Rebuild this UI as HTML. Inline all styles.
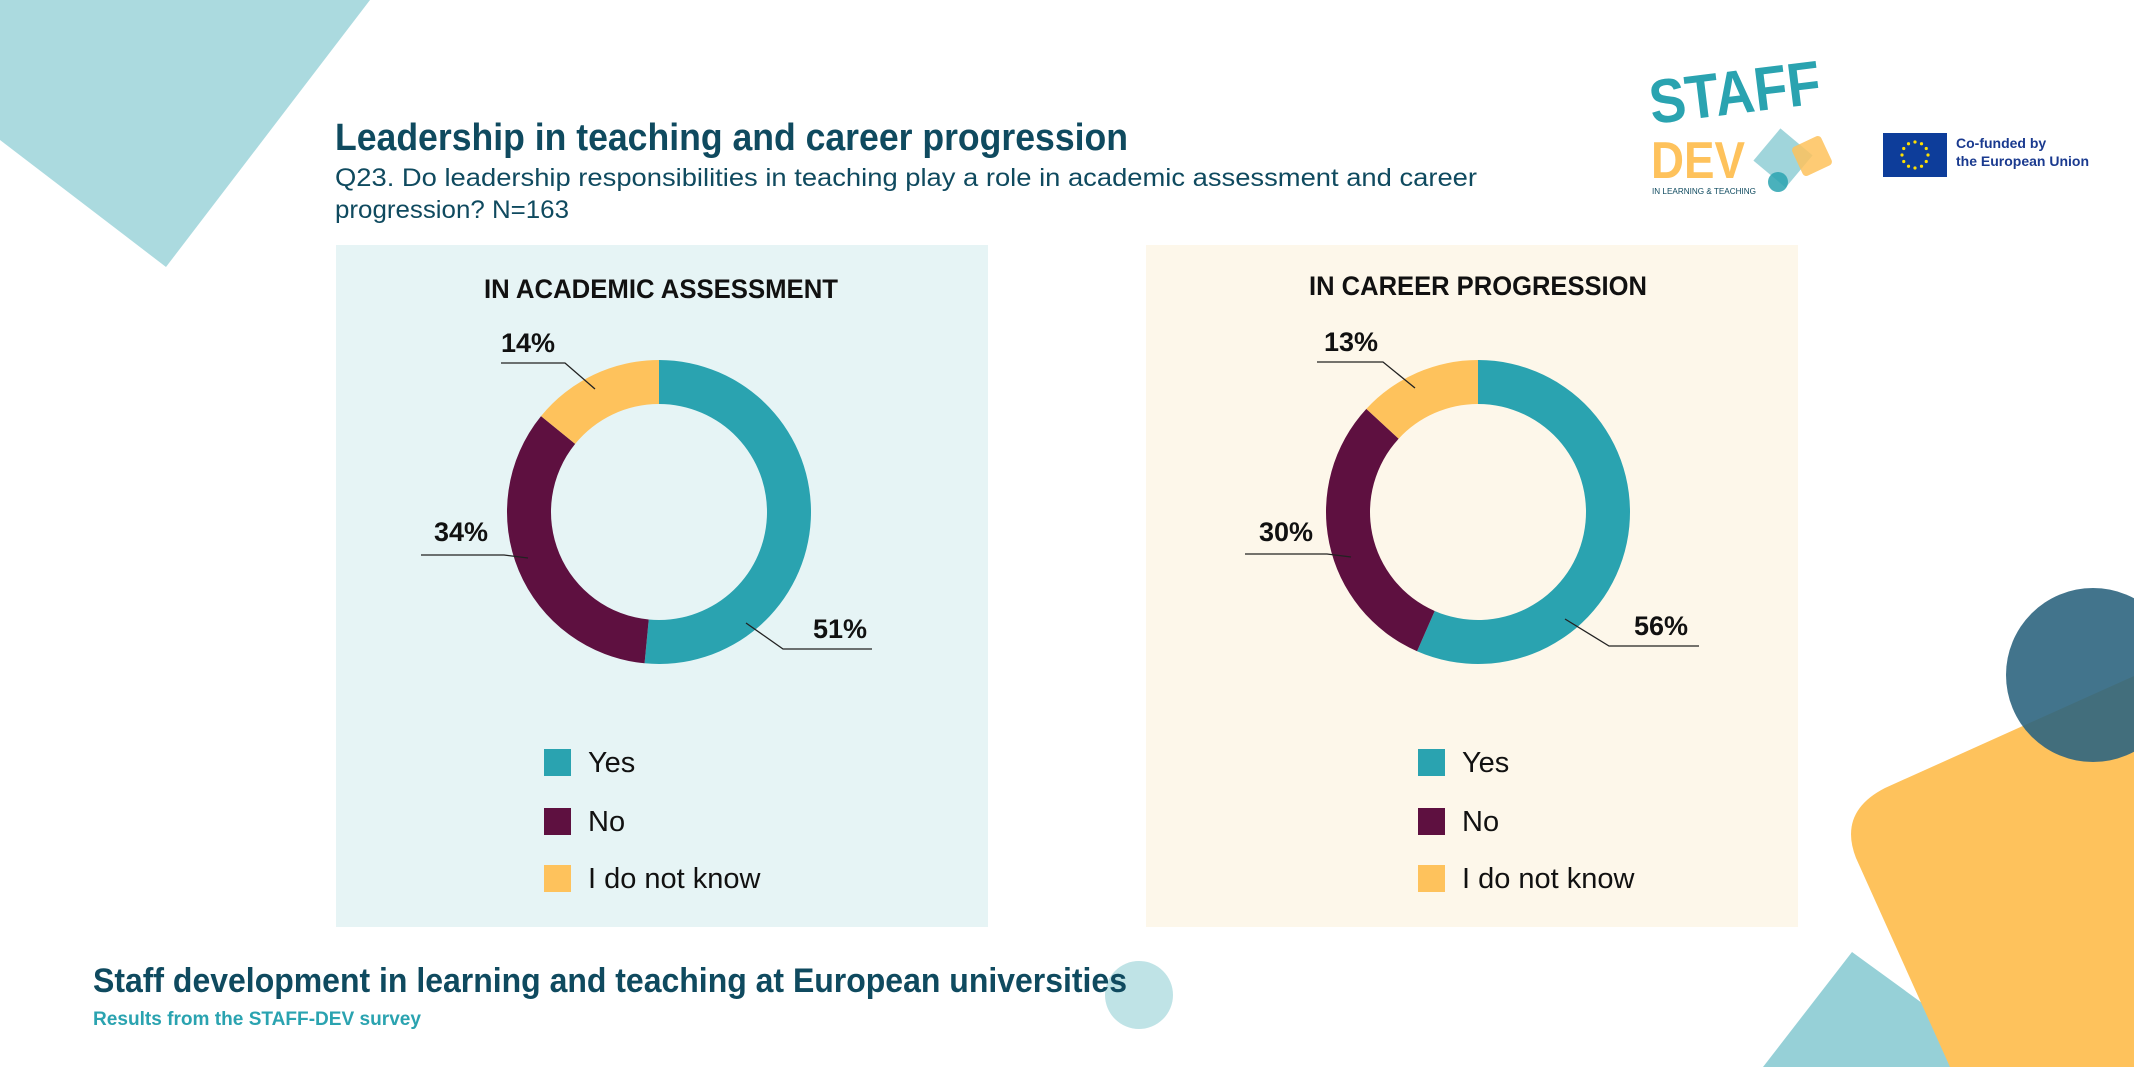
<!DOCTYPE html>
<html><head><meta charset="utf-8"><style>
html,body{margin:0;padding:0;background:#fff;}
svg{display:block;font-family:"Liberation Sans",sans-serif;}
</style></head><body>
<svg id="root" width="2134" height="1067" viewBox="0 0 2134 1067">
  <polygon points="0,0 370,0 166,267 0,140" fill="#abdadf"/>
  <polygon points="1852,952 1763,1067 2010,1067" fill="#96d0d7"/>
  <path d="M1950,1067 L1856,858 Q1838,812 1885,788 L2134,676 L2134,1067 Z" fill="#fec25c"/>
  <circle cx="2093" cy="675" r="87" fill="#2e6580" opacity="0.9"/>
  <circle cx="1139" cy="995" r="34" fill="#bfe3e6"/>

  <text x="335" y="150" font-size="38" font-weight="bold" fill="#0f4a5f" textLength="793" lengthAdjust="spacingAndGlyphs">Leadership in teaching and career progression</text>
  <text x="335" y="186" font-size="25" fill="#0f4a5f" textLength="1142" lengthAdjust="spacingAndGlyphs">Q23. Do leadership responsibilities in teaching play a role in academic assessment and career</text>
  <text x="335" y="218" font-size="25" fill="#0f4a5f" textLength="234" lengthAdjust="spacingAndGlyphs">progression? N=163</text>

  <g>
    <text x="1652" y="124" font-size="62" font-weight="bold" fill="#2aa3b0" transform="rotate(-7 1652 124)" textLength="172" lengthAdjust="spacingAndGlyphs">STAFF</text>
    <rect x="1762" y="137" width="42" height="42" fill="#96d0d7" opacity="0.9" transform="rotate(40 1783 158)"/>
    <rect x="1796" y="140" width="32" height="32" rx="4" fill="#fec25c" opacity="0.85" transform="rotate(-25 1812 156)"/>
    <circle cx="1778" cy="182" r="10" fill="#2aa3b0" opacity="0.85"/>
    <text x="1651" y="178" font-size="52" font-weight="bold" fill="#fec25c" textLength="94" lengthAdjust="spacingAndGlyphs">DEV</text>
    <text x="1652" y="194" font-size="8" fill="#0f4a5f" textLength="104" lengthAdjust="spacingAndGlyphs">IN LEARNING &amp; TEACHING</text>
  </g>
  <g>
    <rect x="1883" y="133" width="64" height="44" fill="#0d3d9a"/>
    <g id="stars" fill="#ffe000"></g>
    <text x="1956" y="148" font-size="14" font-weight="bold" fill="#1a3a8f">Co-funded by</text>
    <text x="1956" y="166" font-size="14" font-weight="bold" fill="#1a3a8f">the European Union</text>
  </g>

  <rect x="336" y="245" width="652" height="682" fill="#e6f4f5"/>
  <rect x="1146" y="245" width="652" height="682" fill="#fdf7ea"/>

  <g id="charts"></g>

  <text x="93" y="992" font-size="34" font-weight="bold" fill="#0f4a5f" textLength="1034" lengthAdjust="spacingAndGlyphs">Staff development in learning and teaching at European universities</text>
  <text x="93" y="1025" font-size="19" font-weight="bold" fill="#2aa3b0" textLength="328" lengthAdjust="spacingAndGlyphs">Results from the STAFF-DEV survey</text>
</svg>
<script>
const categories = ["Yes", "No", "I do not know"];
const assessmentValues = [51, 34, 14];
const careerValues = [56, 30, 13];
const chartTitles = ["IN ACADEMIC ASSESSMENT", "IN CAREER PROGRESSION"];
const colors = ["#2aa3b0", "#5e1040", "#fec25c"];

const NS = "http://www.w3.org/2000/svg";
function mk(tag, attrs, parent){const e=document.createElementNS(NS,tag);for(const k in attrs)e.setAttribute(k,attrs[k]);parent.appendChild(e);return e;}

const stars=document.getElementById('stars');
for(let i=0;i<12;i++){const a=i/12*2*Math.PI;const s=mk('circle',{cx:1915+13*Math.sin(a),cy:155-13*Math.cos(a),r:1.6},stars);

}

const layouts=[
 {cx:659,cy:512,titleX:661,titleY:298,titleW:354,legX:544,legTextX:588,
  labels:[{tx:840,ty:638,line:[[746,623],[783,649],[872,649]]},{tx:461,ty:541,line:[[528,558],[504,555],[421,555]]},{tx:528,ty:352,line:[[595,389],[565,363],[501,363]]}]},
 {cx:1478,cy:512,titleX:1478,titleY:295,titleW:338,legX:1418,legTextX:1462,
  labels:[{tx:1661,ty:635,line:[[1565,619],[1609,646],[1699,646]]},{tx:1286,ty:541,line:[[1351,557],[1327,554],[1245,554]]},{tx:1351,ty:351,line:[[1415,388],[1383,362],[1317,362]]}]}
];
const series=[assessmentValues, careerValues];
const Rout=152, Rin=108;
const legendY=[762,821,878];
const charts=document.getElementById('charts');

function pt(cx,cy,r,frac){const a=frac*2*Math.PI;return [cx+r*Math.sin(a),cy-r*Math.cos(a)];}

series.forEach((vals,ci)=>{
  const L=layouts[ci];
  const g=mk('g',{},charts);
  
  
  const t=mk('text',{x:L.titleX,y:L.titleY,'font-size':27,'font-weight':'bold','text-anchor':'middle',fill:'#111',textLength:L.titleW,lengthAdjust:'spacingAndGlyphs'},g);
  t.textContent=chartTitles[ci];
  
  
  const total=vals.reduce((a,b)=>a+b,0);
  let acc=0;
  vals.forEach((v,i)=>{
    const f0=acc/total, f1=(acc+v)/total; acc+=v;
    const large=(f1-f0)>0.5?1:0;
    const [x0,y0]=pt(L.cx,L.cy,Rout,f0),[x1,y1]=pt(L.cx,L.cy,Rout,f1);
    const [x2,y2]=pt(L.cx,L.cy,Rin,f1),[x3,y3]=pt(L.cx,L.cy,Rin,f0);
    const p=mk('path',{d:`M${x0},${y0} A${Rout},${Rout} 0 ${large} 1 ${x1},${y1} L${x2},${y2} A${Rin},${Rin} 0 ${large} 0 ${x3},${y3} Z`,fill:colors[i]},g);
    
    
    const lb=L.labels[i];
    const pl=mk('polyline',{points:lb.line.map(q=>q.join(',')).join(' '),fill:'none',stroke:'#222','stroke-width':1.3},g);
    
    
    const tx=mk('text',{x:lb.tx,y:lb.ty,'font-size':27,'font-weight':'bold','text-anchor':'middle',fill:'#111'},g);
    tx.textContent=v+'%';
    
    
    const sq=mk('rect',{x:L.legX,y:legendY[i]-13,width:27,height:27,fill:colors[i]},g);
    
    
    const lt=mk('text',{x:L.legTextX,y:legendY[i]+10,'font-size':29,fill:'#111'},g);
    lt.textContent=categories[i];
    
    
  });
});
</script>
</body></html>
